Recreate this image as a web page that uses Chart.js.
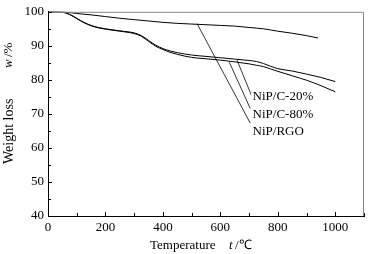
<!DOCTYPE html>
<html><head><meta charset="utf-8">
<script src="https://cdn.jsdelivr.net/npm/chart.js@4"></script>
<style>html,body{margin:0;padding:0;background:#fff}#wrap{width:371px;height:254px}</style>
</head><body><div id="wrap"><canvas id="c" width="371" height="254"></canvas></div>
<script>
const tempPair = [0,25,50,75,100,125,150,175,200,250,300,325,350,375,400,425,450,500,550,600,650,700,725,750,775,800,850,900,950,1000];
const c20 = [100,100,99.9,99.3,98.1,96.9,96.0,95.4,95.0,94.4,93.8,93.0,91.6,90.2,89.2,88.5,88.0,87.3,86.9,86.5,86.1,85.7,85.4,84.8,84.0,83.3,82.6,81.7,80.7,79.5];
const c80 = [100,100,99.9,99.2,98.0,96.8,95.9,95.3,94.9,94.3,93.6,92.8,91.3,89.9,88.9,88.1,87.5,86.6,86.2,85.8,85.3,84.7,84.3,83.9,83.2,82.5,81.2,79.9,78.3,76.5];
const tempRGO = [0,50,100,150,200,250,300,350,400,450,500,550,600,650,700,750,800,850,900,940];
const rgo = [100,100,99.5,99.1,98.6,98.1,97.7,97.3,96.9,96.6,96.4,96.2,96.0,95.8,95.4,95.0,94.3,93.7,93.0,92.3];
const seriesNames = ['NiP/C-20%','NiP/C-80%','NiP/RGO'];
// leader lines: [start, end] in data units
const leaderT = [[658,707],[631,704],[519,704]];
const leaderW = [[85.8,75.7],[85.2,71.6],[96.5,67.3]];
const labelT = [712,712,712];
const labelW = [75.1,69.9,64.7];
const xTicks = [0,200,400,600,800,1000];
const yTicks = [40,50,60,70,80,90,100];
const xMinor = [100,300,500,700,900,1100];
const yMinor = [45,55,65,75,85,95];

const zip = (xs, ys) => xs.map((x,i)=>({x, y: ys[i]}));
const serif = "'Liberation Serif', serif";

const lineDs = (data) => ({data, borderColor:'#000', borderWidth:1, pointRadius:0, fill:false, cubicInterpolationMode:'monotone'});
const leaderDs = (i) => ({data: zip(leaderT[i], leaderW[i]), borderColor:'#000', borderWidth:0.8, pointRadius:0, fill:false, tension:0});

const deco = {
  id:'deco',
  afterDraw(chart){
    const ctx = chart.ctx, a = chart.chartArea, xs = chart.scales.x, ys = chart.scales.y;
    ctx.save();
    ctx.strokeStyle = '#888'; ctx.lineWidth = 1;
    ctx.beginPath();
    ctx.moveTo(a.left, a.top+0.5); ctx.lineTo(a.right-0.5, a.top+0.5); ctx.lineTo(a.right-0.5, a.bottom);
    ctx.stroke();
    ctx.strokeStyle = '#000';
    ctx.beginPath();
    xTicks.concat(xMinor).forEach(v=>{
      const px = Math.round(xs.getPixelForValue(v))+0.5;
      const len = xTicks.includes(v) ? 4 : 3;
      ctx.moveTo(px, a.bottom); ctx.lineTo(px, a.bottom-len);
    });
    yTicks.concat(yMinor).forEach(v=>{
      const py = Math.round(ys.getPixelForValue(v))+0.5;
      const len = yTicks.includes(v) ? 4 : 3;
      ctx.moveTo(a.left, py); ctx.lineTo(a.left+len, py);
    });
    ctx.stroke();
    ctx.fillStyle = '#000';
    ctx.font = '13px ' + serif;
    ctx.textBaseline = 'middle'; ctx.textAlign = 'left';
    seriesNames.forEach((n,i)=>{
      ctx.fillText(n, xs.getPixelForValue(labelT[i]), ys.getPixelForValue(labelW[i]));
    });
    // x title
    ctx.font = '13px ' + serif;
    ctx.fillText('Temperature', 150, 246);
    ctx.font = 'italic 13px ' + serif;
    ctx.fillText('t', 229, 246);
    ctx.font = '13px ' + serif;
    ctx.fillText('/', 235, 246);
    ctx.fillText('\u2103', 239, 246);
    // y title
    ctx.translate(9, 164);
    ctx.rotate(-Math.PI/2);
    ctx.font = '14px ' + serif;
    ctx.fillText('Weight loss', 0, 0);
    ctx.font = 'italic 13px ' + serif;
    ctx.fillText('w', 96, 0);
    ctx.font = '13px ' + serif;
    ctx.fillText('/%', 107, 0);
    ctx.restore();
  }
};

function build(){
new Chart(document.getElementById('c'), {
  type:'line',
  data:{datasets:[
    lineDs(zip(tempPair,c20)),
    lineDs(zip(tempPair,c80)),
    lineDs(zip(tempRGO,rgo)),
    leaderDs(0), leaderDs(1), leaderDs(2)
  ]},
  options:{
    responsive:false, animation:false, devicePixelRatio:1,
    layout:{padding:{top:8,right:7,left:0,bottom:0}},
    plugins:{legend:{display:false}, tooltip:{enabled:false}},
    scales:{
      x:{type:'linear', min:0, max:1100,
        grid:{display:false, drawTicks:false},
        border:{display:true, color:'#000', width:1},
        afterBuildTicks:(s)=>{s.ticks = xTicks.map(v=>({value:v}));},
        afterFit:(s)=>{s.height = 38;},
        ticks:{color:'#000', font:{family:serif, size:13}, padding:4, maxRotation:0, autoSkip:false, callback:(v)=>String(v)}
      },
      y:{type:'linear', min:40, max:100,
        grid:{display:false, drawTicks:false},
        border:{display:true, color:'#000', width:1},
        afterBuildTicks:(s)=>{s.ticks = yTicks.map(v=>({value:v}));},
        afterFit:(s)=>{s.width = 48;},
        ticks:{color:'#000', font:{family:serif, size:13}, padding:4, autoSkip:false, callback:(v)=>String(v)}
      }
    }
  },
  plugins:[deco]
});
}
if (document.fonts && document.fonts.load) {
  Promise.all([document.fonts.load("13px 'Liberation Serif'"), document.fonts.load("italic 13px 'Liberation Serif'")]).then(build, build);
} else build();
</script></body></html>
